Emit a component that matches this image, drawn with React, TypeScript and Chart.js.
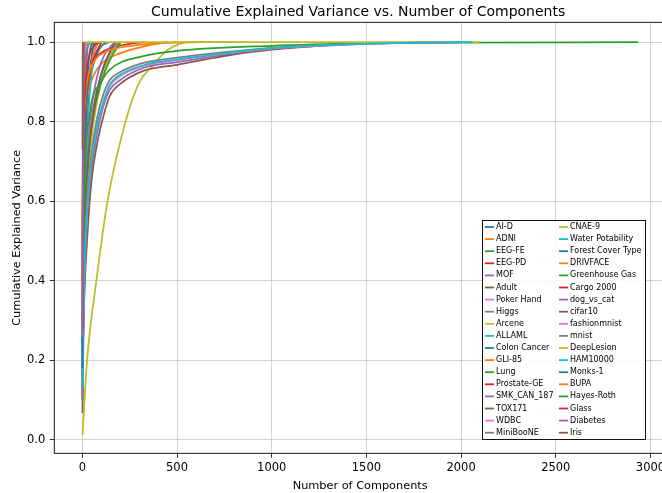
import React, { useEffect, useRef } from 'react';
import { Chart, registerables } from 'chart.js';

Chart.register(...registerables);

const seriesNames = [
  'AI-D', 'ADNI', 'EEG-FE', 'EEG-PD', 'MOF', 'Adult', 'Poker Hand', 'Higgs', 'Arcene',
  'ALLAML', 'Colon Cancer', 'GLI-85', 'Lung', 'Prostate-GE', 'SMK_CAN_187', 'TOX171',
  'WDBC', 'MiniBooNE', 'CNAE-9', 'Water Potability', 'Forest Cover Type', 'DRIVFACE',
  'Greenhouse Gas', 'Cargo 2000', 'dog_vs_cat', 'cifar10', 'fashionmnist', 'mnist',
  'DeepLesion', 'HAM10000', 'Monks-1', 'BUPA', 'Hayes-Roth', 'Glass', 'Diabetes', 'Iris',
];

const palette = ['#1f77b4', '#ff7f0e', '#2ca02c', '#d62728', '#9467bd', '#8c564b', '#e377c2', '#7f7f7f', '#bcbd22', '#17becf'];

const xTicks = [0, 500, 1000, 1500, 2000, 2500, 3000];
const yTicks = [0.0, 0.2, 0.4, 0.6, 0.8, 1.0];

const aidX = [1, 5, 10, 20, 40, 70, 100, 140];
const aidY = [0.17, 0.45, 0.62, 0.78, 0.9, 0.96, 0.99, 1.0];
const adniX = [1, 5, 10, 25, 50, 100, 150, 250, 350, 450];
const adniY = [0.35, 0.62, 0.74, 0.85, 0.905, 0.945, 0.962, 0.98, 0.992, 1.0];
const eegfeX = [1, 10, 30, 60, 100, 150, 200];
const eegfeY = [0.25, 0.5, 0.7, 0.83, 0.92, 0.97, 1.0];
const eegpdX = [1, 5, 15, 40, 80, 150, 250, 330];
const eegpdY = [0.4, 0.7, 0.85, 0.93, 0.965, 0.985, 0.996, 1.0];
const mofX = [1, 10, 30, 60, 100, 150, 180];
const mofY = [0.3, 0.55, 0.75, 0.87, 0.95, 0.99, 1.0];
const adultX = [1, 2, 4, 8, 14];
const adultY = [0.068, 0.2, 0.45, 0.75, 1.0];
const pokerX = [1, 2, 3, 4, 5, 6, 7, 8, 9, 10];
const pokerY = [0.108, 0.213, 0.316, 0.418, 0.519, 0.619, 0.718, 0.815, 0.91, 1.0];
const higgsX = [1, 3, 6, 10, 15, 20, 28];
const higgsY = [0.115, 0.27, 0.42, 0.6, 0.78, 0.9, 1.0];
const arceneX = [1, 10, 30, 60, 100, 150, 190];
const arceneY = [0.2, 0.45, 0.66, 0.8, 0.9, 0.97, 1.0];
const allamlX = [1, 5, 15, 30, 50, 72];
const allamlY = [0.14, 0.35, 0.6, 0.8, 0.93, 1.0];
const colonX = [1, 5, 15, 30, 45, 62];
const colonY = [0.22, 0.5, 0.72, 0.87, 0.95, 1.0];
const gliX = [1, 5, 15, 35, 60, 85];
const gliY = [0.3, 0.55, 0.75, 0.9, 0.97, 1.0];
const lungX = [1, 10, 30, 60, 100, 150, 203];
const lungY = [0.24, 0.5, 0.7, 0.82, 0.9, 0.96, 1.0];
const prostateX = [1, 5, 15, 35, 70, 102];
const prostateY = [0.45, 0.65, 0.8, 0.91, 0.97, 1.0];
const smkX = [1, 10, 30, 60, 100, 140, 187];
const smkY = [0.3, 0.55, 0.72, 0.84, 0.92, 0.97, 1.0];
const toxX = [1, 10, 30, 60, 100, 140, 171];
const toxY = [0.28, 0.52, 0.7, 0.83, 0.92, 0.97, 1.0];
const wdbcX = [1, 2, 3, 5, 8, 12, 18, 30];
const wdbcY = [0.44, 0.63, 0.73, 0.85, 0.93, 0.97, 0.99, 1.0];
const minibooneX = [1, 2, 4, 8, 15, 30, 50];
const minibooneY = [0.4, 0.55, 0.7, 0.85, 0.94, 0.99, 1.0];
const cnaeX = [1, 25, 74, 133, 228, 302, 361, 449, 573, 856];
const cnaeY = [0.013, 0.2, 0.4, 0.6, 0.8, 0.9, 0.935, 0.98, 1.0, 1.0];
const waterX = [1, 2, 3, 4, 5, 6, 7, 8, 9];
const waterY = [0.13, 0.25, 0.37, 0.48, 0.59, 0.7, 0.8, 0.9, 1.0];
const forestX = [1, 3, 6, 10, 20, 35, 54];
const forestY = [0.16, 0.3, 0.45, 0.6, 0.82, 0.96, 1.0];
const drivfaceX = [1, 3, 10, 25, 60, 120, 250, 400, 606];
const drivfaceY = [0.55, 0.7, 0.82, 0.9, 0.95, 0.975, 0.99, 0.997, 1.0];
const greenhouseX = [1, 10, 40, 100, 145, 322, 500, 1000, 1500, 2000, 2935];
const greenhouseY = [0.25, 0.6, 0.82, 0.9, 0.931, 0.965, 0.978, 0.991, 0.997, 0.999, 1.0];
const cargoX = [1, 5, 15, 30, 60, 97];
const cargoY = [0.5, 0.75, 0.88, 0.95, 0.99, 1.0];
const dogcatX = [1, 5, 10, 25, 48, 78, 112, 145, 200, 322, 500, 750, 1000, 1500, 2000];
const dogcatY = [0.12, 0.27, 0.38, 0.55, 0.68, 0.77, 0.84, 0.88, 0.905, 0.935, 0.95, 0.968, 0.983, 0.996, 1.0];
const cifarX = [1, 5, 10, 25, 48, 78, 112, 145, 200, 322, 500, 750, 1000, 1500, 2000];
const cifarY = [0.1, 0.24, 0.35, 0.5, 0.65, 0.745, 0.815, 0.865, 0.895, 0.928, 0.943, 0.965, 0.981, 0.997, 1.0];
const fashionX = [1, 5, 10, 25, 48, 78, 112, 145, 200, 322, 500, 750, 1000, 1500, 2000];
const fashionY = [0.11, 0.28, 0.4, 0.57, 0.7, 0.79, 0.85, 0.89, 0.915, 0.94, 0.955, 0.971, 0.984, 0.996, 1.0];
const mnistX = [1, 5, 10, 25, 48, 78, 112, 145, 200, 322, 500, 750, 1000, 1500, 2000];
const mnistY = [0.1, 0.3, 0.42, 0.6, 0.72, 0.81, 0.87, 0.905, 0.925, 0.948, 0.961, 0.975, 0.986, 0.997, 1.0];
const deeplesionX = [1, 3, 8, 15, 2095];
const deeplesionY = [0.5, 0.8, 0.95, 1.0, 1.0];
const hamX = [1, 5, 10, 25, 48, 78, 112, 145, 200, 322, 500, 750, 1000, 1500, 2000, 2060];
const hamY = [0.13, 0.29, 0.41, 0.58, 0.7, 0.79, 0.85, 0.893, 0.918, 0.942, 0.957, 0.972, 0.985, 0.996, 1.0, 1.0];
const monksX = [1, 2, 3, 4, 5, 6];
const monksY = [0.18, 0.35, 0.52, 0.69, 0.85, 1.0];
const bupaX = [1, 2, 3, 4, 5, 6];
const bupaY = [0.39, 0.58, 0.74, 0.86, 0.95, 1.0];
const hayesX = [1, 2, 3, 4];
const hayesY = [0.3, 0.55, 0.8, 1.0];
const glassX = [1, 2, 3, 4, 5, 6, 7, 8, 9];
const glassY = [0.28, 0.5, 0.66, 0.79, 0.89, 0.95, 0.99, 0.999, 1.0];
const diabetesX = [1, 2, 3, 4, 5, 6, 7, 8];
const diabetesY = [0.26, 0.48, 0.61, 0.72, 0.82, 0.9, 0.96, 1.0];
const irisX = [1, 2, 3, 4];
const irisY = [0.73, 0.958, 0.995, 1.0];

const seriesX = [aidX, adniX, eegfeX, eegpdX, mofX, adultX, pokerX, higgsX, arceneX, allamlX, colonX, gliX, lungX, prostateX, smkX, toxX, wdbcX, minibooneX, cnaeX, waterX, forestX, drivfaceX, greenhouseX, cargoX, dogcatX, cifarX, fashionX, mnistX, deeplesionX, hamX, monksX, bupaX, hayesX, glassX, diabetesX, irisX];
const seriesY = [aidY, adniY, eegfeY, eegpdY, mofY, adultY, pokerY, higgsY, arceneY, allamlY, colonY, gliY, lungY, prostateY, smkY, toxY, wdbcY, minibooneY, cnaeY, waterY, forestY, drivfaceY, greenhouseY, cargoY, dogcatY, cifarY, fashionY, mnistY, deeplesionY, hamY, monksY, bupaY, hayesY, glassY, diabetesY, irisY];

const FONT = "'DejaVu Sans', sans-serif";
const TITLE = 'Cumulative Explained Variance vs. Number of Components';

const framePlugin = {
  id: 'frameAndLegend',
  afterDatasetsDraw(chart: any) {
    const { ctx, chartArea } = chart;
    ctx.save();
    ctx.strokeStyle = '#000';
    ctx.lineWidth = 0.9;
    ctx.strokeRect(chartArea.left, chartArea.top, chartArea.right - chartArea.left, chartArea.bottom - chartArea.top);

    // title
    ctx.fillStyle = '#000';
    ctx.font = `14px ${FONT}`;
    ctx.textAlign = 'center';
    ctx.textBaseline = 'alphabetic';
    ctx.fillText(TITLE, (chartArea.left + chartArea.right) / 2 - 2, 15.7);

    // legend
    const ds = chart.data.datasets;
    const rows = Math.ceil(ds.length / 2);
    const rowH = 12.1;
    const w = 164;
    const h = 220;
    const x0 = chartArea.right - 20 - w;
    const y0 = chartArea.bottom - 13.3 - h;
    ctx.fillStyle = 'rgba(255,255,255,0.85)';
    ctx.fillRect(x0, y0, w, h);
    ctx.strokeStyle = '#111';
    ctx.lineWidth = 1;
    ctx.strokeRect(x0 + 0.5, y0 + 0.5, w - 1, h - 1);
    ctx.font = `8px ${FONT}`;
    ctx.textBaseline = 'middle';
    ctx.textAlign = 'left';
    for (let i = 0; i < ds.length; i++) {
      const col = Math.floor(i / rows);
      const row = i % rows;
      const cx = x0 + (col === 0 ? 3 : 77);
      const cy = y0 + 7 + row * rowH;
      ctx.strokeStyle = ds[i].borderColor;
      ctx.lineWidth = 1.8;
      ctx.beginPath();
      ctx.moveTo(cx, cy);
      ctx.lineTo(cx + 9, cy);
      ctx.stroke();
      ctx.fillStyle = '#000';
      ctx.fillText(ds[i].label, cx + 11, cy);
    }
    ctx.restore();
  },
};

export default function App() {
  const ref = useRef<HTMLCanvasElement | null>(null);
  useEffect(() => {
    if (!ref.current) return;
    const datasets = seriesNames.map((name, i) => ({
      label: name,
      data: seriesX[i].map((x, j) => ({ x, y: seriesY[i][j] })),
      borderColor: palette[i % palette.length],
      backgroundColor: palette[i % palette.length],
      borderWidth: 1.75,
      pointRadius: 0,
      pointHoverRadius: 0,
      fill: false,
      cubicInterpolationMode: 'monotone' as const,
      order: 100 - i,
    }));
    const gridStyle = { color: '#c8c8c8', lineWidth: 0.8, tickLength: 4.5, tickColor: '#000', drawTicks: true };
    const chart = new Chart(ref.current, {
      type: 'line',
      data: { datasets },
      options: {
        responsive: false,
        animation: false,
        events: [],
        layout: { padding: { left: 0, right: 4, top: 22.3, bottom: 0 } },
        plugins: {
          legend: { display: false },
          tooltip: { enabled: false },
          title: { display: false },
        },
        scales: {
          x: {
            type: 'linear',
            min: -148,
            max: 3082,
            afterBuildTicks: (s: any) => { s.ticks = xTicks.map((v) => ({ value: v })); },
            afterFit: (s: any) => { s.height = 39.7; },
            ticks: {
              color: '#000',
              font: { family: FONT, size: 11.5 },
              padding: 3,
              maxRotation: 0,
              autoSkip: false,
              callback: (v: any) => String(v),
            },
            grid: gridStyle,
            border: { display: false },
            title: {
              display: true,
              text: 'Number of Components',
              color: '#000',
              font: { family: FONT, size: 11.3 },
              padding: { top: 1, bottom: 0 },
            },
          },
          y: {
            type: 'linear',
            min: -0.0335,
            max: 1.05,
            afterBuildTicks: (s: any) => { s.ticks = yTicks.map((v) => ({ value: v })); },
            afterFit: (s: any) => { s.width = 54.3; },
            ticks: {
              color: '#000',
              font: { family: FONT, size: 11.5 },
              padding: 4.5,
              autoSkip: false,
              callback: (v: any) => Number(v).toFixed(1),
            },
            grid: gridStyle,
            border: { display: false },
            title: {
              display: true,
              text: 'Cumulative Explained Variance',
              color: '#000',
              font: { family: FONT, size: 11.3 },
              padding: { top: 10, bottom: 0 },
            },
          },
        },
      },
      plugins: [framePlugin],
    });
    return () => chart.destroy();
  }, []);
  return (
    <div style={{ position: 'fixed', left: 0, top: 0, width: 662, height: 493, overflow: 'hidden', background: '#fff' }}>
      <canvas ref={ref} width={670} height={493} style={{ width: 670, height: 493, display: 'block' }} />
    </div>
  );
}
